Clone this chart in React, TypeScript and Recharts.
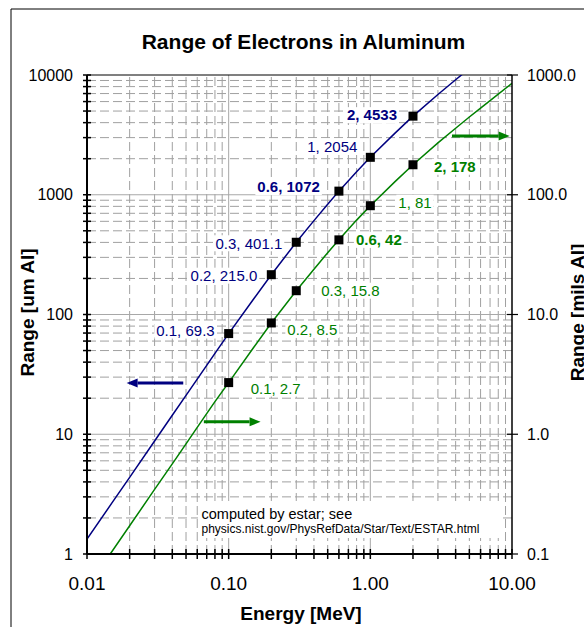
import React from "react";
import { ComposedChart, XAxis, YAxis, Line, Scatter, ReferenceLine } from "recharts";

// electron energy [MeV] and CSDA range
const energyMeV = [0.01, 0.015, 0.02, 0.03, 0.04, 0.05, 0.06, 0.08, 0.1, 0.15, 0.2, 0.3, 0.4, 0.5, 0.6, 0.8, 1, 1.5, 2, 3, 4, 5, 6, 8, 10];
const rangeUm = [1.33, 2.67, 4.37, 8.78, 14.4, 21.1, 28.9, 47.4, 69.3, 134.7, 215, 401.1, 608, 832, 1072, 1559, 2054, 3287, 4533, 6880, 9125, 11330];
const rangeMils = [0.0524, 0.105, 0.172, 0.346, 0.566, 0.83, 1.14, 1.87, 2.7, 5.3, 8.5, 15.8, 23.9, 32.8, 42, 61.4, 81, 129.4, 178, 270.9, 359, 446, 529, 693, 852];

// marked points
const markEnergy = [0.1, 0.2, 0.3, 0.6, 1, 2];
const markUm = [69.3, 215.0, 401.1, 1072, 2054, 4533];
const markMils = [2.7, 8.5, 15.8, 42, 81, 178];
const umLabels = ["0.1, 69.3", "0.2, 215.0", "0.3, 401.1", "0.6, 1072", "1, 2054", "2, 4533"];
const milsLabels = ["0.1, 2.7", "0.2, 8.5", "0.3, 15.8", "0.6, 42", "1, 81", "2, 178"];

// axis ticks
const xTicks = [0.01, 0.02, 0.03, 0.04, 0.05, 0.06, 0.07, 0.08, 0.09, 0.1, 0.2, 0.3, 0.4, 0.5, 0.6, 0.7, 0.8, 0.9, 1, 2, 3, 4, 5, 6, 7, 8, 9, 10];
const xMajor = [0.01, 0.1, 1, 10];
const yTicks = [1, 2, 3, 4, 5, 6, 7, 8, 9, 10, 20, 30, 40, 50, 60, 70, 80, 90, 100, 200, 300, 400, 500, 600, 700, 800, 900, 1000, 2000, 3000, 4000, 5000, 6000, 7000, 8000, 9000, 10000];
const yMajor = [1, 10, 100, 1000, 10000];
const rightTicks = [0.1, 1, 10, 100, 1000];

const BLUE = "#000080";
const GREEN = "#008000";
const GRID = "#a0a0a0";
const FONT = "'Liberation Sans', Arial, sans-serif";

const boldLabel = [false, false, false, true, false, true];
const umOffsets = [[-14, -3], [-14, 1], [-14, 1], [-19, -4], [-13, -11], [-16, -1]];
const milsOffsets = [[22, 6], [16, 7], [25, 0], [17, 0], [28, -3], [21, 2]];

const umRows = rangeUm.map((v, i) => ({ e: energyMeV[i], v }));
const milsRows = rangeMils.map((v, i) => ({ e: energyMeV[i], v }));
const umMarks = markEnergy.map((e, i) => ({ e, v: markUm[i], i }));
const milsMarks = markEnergy.map((e, i) => ({ e, v: markMils[i], i }));

const textWidth = (s: string, size: number) =>
  [...s].reduce((w, c) => w + (/[0-9]/.test(c) ? 0.556 : 0.278) * size, 0);

const makeMark = (labels: string[], offsets: number[][], color: string, side: "left" | "right") =>
  (props: any) => {
    const { cx, cy, payload } = props;
    const i = payload.i;
    const [dx, dy] = offsets[i];
    const text = labels[i];
    const w = textWidth(text, 15);
    const tx = cx + dx;
    const boxX = side === "left" ? tx - w - 2 : tx - 2;
    return (
      <g>
        <rect x={boxX} y={cy + dy - 8} width={w + 4} height={16} fill="#fff" />
        <rect x={cx - 4.5} y={cy - 4.5} width={9} height={9} fill="#000" />
        <text
          x={tx}
          y={cy + dy + 5.3}
          textAnchor={side === "left" ? "end" : "start"}
          fontSize={15}
          fontWeight={boldLabel[i] ? "bold" : "normal"}
          fill={color}
        >
          {text}
        </text>
      </g>
    );
  };

const LeftTick = (props: any) => {
  const { x, y, payload } = props;
  const v = payload.value;
  return (
    <g>
      <line x1={x - 4} x2={x + 4} y1={y} y2={y} stroke="#000" strokeWidth={1.5} />
      {yMajor.includes(v) && (
        <text x={x - 14} y={y + 5.6} textAnchor="end" fontSize={16} fill="#000">
          {v}
        </text>
      )}
    </g>
  );
};

const RightTick = (props: any) => {
  const { x, y, payload } = props;
  const v = payload.value;
  return (
    <g>
      <line x1={x - 5} x2={x + 6} y1={y} y2={y} stroke="#000" strokeWidth={1.2} />
      <text x={x + 15} y={y + 5.6} textAnchor="start" fontSize={16} fill="#000">
        {v.toFixed(1)}
      </text>
    </g>
  );
};

const BottomTick = (props: any) => {
  const { x, y, payload } = props;
  const v = payload.value;
  return (
    <g>
      <line x1={x} x2={x} y1={y - 5} y2={y + 5} stroke="#000" strokeWidth={1.5} />
      {xMajor.includes(v) && (
        <text x={x} y={y + 36} textAnchor="middle" fontSize={19} fill="#000">
          {v.toFixed(2)}
        </text>
      )}
    </g>
  );
};

const arrow = (color: string) => (p: any) => {
  const { x1, y1, x2, y2 } = p;
  const dir = x2 > x1 ? 1 : -1;
  const base = x2 - dir * 11;
  return (
    <g>
      <line x1={x1} y1={y1} x2={base} y2={y2} stroke={color} strokeWidth={3} />
      <polygon points={`${x2},${y2} ${base},${y2 - 4.5} ${base},${y2 + 4.5}`} fill={color} />
    </g>
  );
};

export default function App() {
  const xMinor = xTicks.filter((v) => !xMajor.includes(v));
  const yMinor = yTicks.filter((v) => !yMajor.includes(v));
  return (
    <div style={{ position: "absolute", left: 0, top: 0, width: 584, height: 627, fontFamily: FONT, background: "#fff" }}>
      <ComposedChart width={584} height={627} margin={{ top: 75, right: 12, left: 27, bottom: 33 }}>
        <XAxis
          dataKey="e"
          type="number"
          scale="log"
          domain={[0.01, 10]}
          allowDataOverflow
          ticks={xTicks}
          interval={0}
          tick={BottomTick}
          tickLine={false}
          tickSize={0}
          tickMargin={0}
          height={40}
          axisLine={{ stroke: "#000", strokeWidth: 2 }}
        />
        <YAxis
          yAxisId="left"
          type="number"
          scale="log"
          domain={[1, 10000]}
          allowDataOverflow
          ticks={yTicks}
          interval={0}
          tick={LeftTick}
          tickLine={false}
          tickSize={0}
          tickMargin={0}
          width={60}
          axisLine={{ stroke: "#000", strokeWidth: 2 }}
        />
        <YAxis
          yAxisId="right"
          orientation="right"
          type="number"
          scale="log"
          domain={[0.1, 1000]}
          allowDataOverflow
          ticks={rightTicks}
          interval={0}
          tick={RightTick}
          tickLine={false}
          tickSize={0}
          tickMargin={0}
          width={60}
          axisLine={{ stroke: "#000", strokeWidth: 1.5 }}
        />

        {xMinor.map((v) => (
          <ReferenceLine key={"xm" + v} yAxisId="left" x={v} stroke={GRID} strokeDasharray="9 4" />
        ))}
        {yMinor.map((v) => (
          <ReferenceLine key={"ym" + v} yAxisId="left" y={v} stroke={GRID} strokeDasharray="9 4" />
        ))}
        {[0.1, 1].map((v) => (
          <ReferenceLine key={"xM" + v} yAxisId="left" x={v} stroke="#a8a8a8" />
        ))}
        {[10, 100, 1000].map((v) => (
          <ReferenceLine key={"yM" + v} yAxisId="left" y={v} stroke="#a8a8a8" />
        ))}
        <ReferenceLine yAxisId="left" y={10000} stroke="#000" strokeWidth={1} />

        <ReferenceLine
          yAxisId="left"
          segment={[{ x: 0.0478, y: 26.8 }, { x: 0.01905, y: 26.8 }]}
          shape={arrow(BLUE)}
        />
        <ReferenceLine
          yAxisId="right"
          segment={[{ x: 0.0668, y: 1.27 }, { x: 0.168, y: 1.27 }]}
          shape={arrow(GREEN)}
        />
        <ReferenceLine
          yAxisId="right"
          segment={[{ x: 3.77, y: 310 }, { x: 9.62, y: 310 }]}
          shape={arrow(GREEN)}
        />

        <Line yAxisId="right" data={milsRows} dataKey="v" type="linear" stroke={GREEN} strokeWidth={1.5} dot={false} isAnimationActive={false} />
        <Line yAxisId="left" data={umRows} dataKey="v" type="linear" stroke={BLUE} strokeWidth={1.5} dot={false} isAnimationActive={false} />
        <Scatter yAxisId="left" data={umMarks} dataKey="v" shape={makeMark(umLabels, umOffsets, BLUE, "left")} isAnimationActive={false} />
        <Scatter yAxisId="right" data={milsMarks} dataKey="v" shape={makeMark(milsLabels, milsOffsets, GREEN, "right")} isAnimationActive={false} />
      </ComposedChart>

      <svg width={584} height={627} style={{ position: "absolute", left: 0, top: 0, pointerEvents: "none" }}>
        <line x1={11} y1={9} x2={584} y2={9} stroke="#000" strokeWidth={1} />
        <line x1={11} y1={9} x2={11} y2={627} stroke="#000" strokeWidth={1} />
        <text x={303.5} y={48.5} textAnchor="middle" fontSize={21} fontWeight="bold" fill="#000">
          Range of Electrons in Aluminum
        </text>
        <text x={301} y={620} textAnchor="middle" fontSize={19} fontWeight="bold" fill="#000">
          Energy [MeV]
        </text>
        <text transform="translate(34,312.5) rotate(-90)" textAnchor="middle" fontSize={19} fontWeight="bold" fill="#000">
          Range [um Al]
        </text>
        <text transform="translate(584,312.5) rotate(-90)" textAnchor="middle" fontSize={19} fontWeight="bold" fill="#000">
          Range [mils Al]
        </text>
        <rect x={198} y={501} width={305} height={37} fill="#fff" />
        <text x={201.5} y={518.5} fontSize={14.5} fill="#000">
          computed by estar; see
        </text>
        <text x={201.5} y={532.5} fontSize={12} fill="#000">
          physics.nist.gov/PhysRefData/Star/Text/ESTAR.html
        </text>
      </svg>
    </div>
  );
}
